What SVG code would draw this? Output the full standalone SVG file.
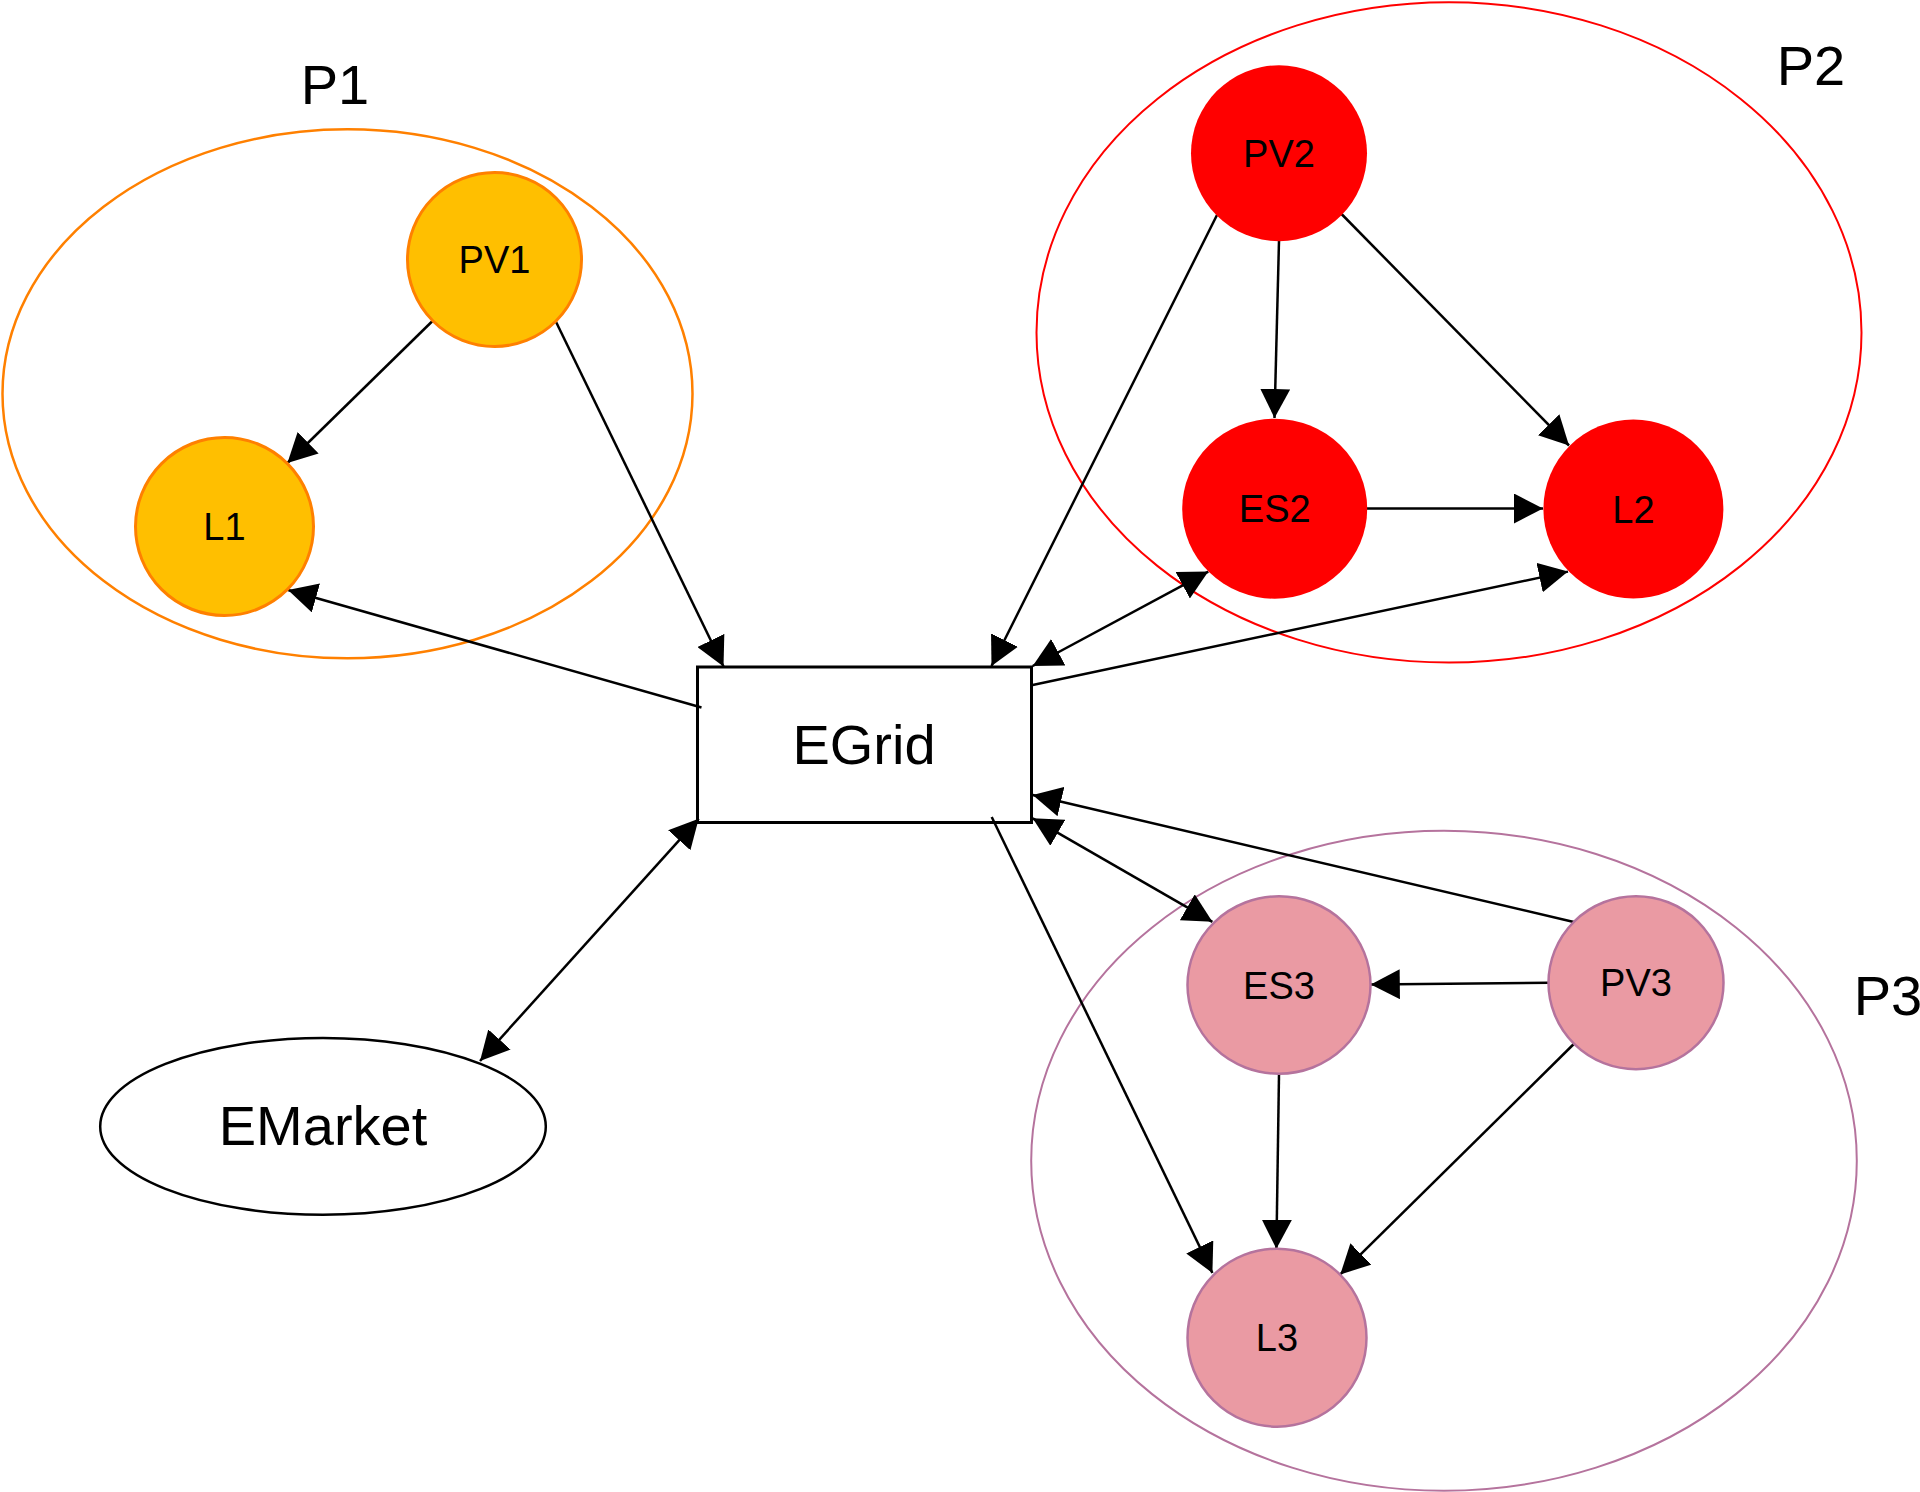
<svg xmlns="http://www.w3.org/2000/svg" width="1920" height="1492" viewBox="0 0 1920 1492">
<style>
text{font-family:"Liberation Sans",Arial,sans-serif;fill:#000;text-anchor:middle}
.lbl{font-size:56px}
.nt{font-size:38px}
.p1n{fill:#FFBF00;stroke:#FF8000;stroke-width:3}
.p2n{fill:#FF0000;stroke:none}
.p3n{fill:#EA9AA3;stroke:#B5739D;stroke-width:2.5}
.edge{fill:none;stroke:#000;stroke-width:2.5}
.a{marker-end:url(#ah)}
.b{marker-start:url(#ah);marker-end:url(#ah)}
</style>
<defs>
<marker id="ah" markerUnits="userSpaceOnUse" markerWidth="30" markerHeight="30" refX="29" refY="15" orient="auto-start-reverse" viewBox="0 0 30 30">
<path d="M0,0 L29,15 L0,30 z" fill="#000"/>
</marker>
</defs>
<rect width="1920" height="1492" fill="#fff"/>
<g id="P1">
<ellipse cx="347.5" cy="393.8" rx="345" ry="264.5" fill="none" stroke="#FF8000" stroke-width="2.5"/>
<text class="lbl" x="335" y="104">P1</text>
</g>
<g id="P2">
<ellipse cx="1449" cy="332.4" rx="412.5" ry="330.2" fill="none" stroke="#FF0000" stroke-width="2"/>
<text class="lbl" x="1811" y="85">P2</text>
</g>
<g id="P3">
<ellipse cx="1444" cy="1160.8" rx="412.8" ry="330" fill="none" stroke="#B5739D" stroke-width="2"/>
<text class="lbl" x="1888" y="1015">P3</text>
</g>
<g id="connectors">
<path class="edge a" d="M432.5,321 L287.4,463"/>
<path class="edge a" d="M555.6,321 L723.5,666.5"/>
<path class="edge a" d="M701.5,707.5 L288,590"/>
<path class="edge a" d="M1217,215 L991.5,666"/>
<path class="edge a" d="M1279,241 L1274.5,418"/>
<path class="edge a" d="M1341.5,214 L1569,445.5"/>
<path class="edge a" d="M1367,508.5 L1543,508.5"/>
<path class="edge b" d="M1032.7,666 L1208.3,571.6"/>
<path class="edge a" d="M1032.7,685 L1568,571.6"/>
<path class="edge a" d="M1573.8,922 L1032.7,795"/>
<path class="edge b" d="M1032.7,818.3 L1212.4,921.8"/>
<path class="edge a" d="M991.7,817 L1212.4,1273"/>
<path class="edge a" d="M1549,982.7 L1370.8,984.5"/>
<path class="edge a" d="M1279,1074 L1276.4,1248.8"/>
<path class="edge a" d="M1573.8,1044 L1340.3,1274.4"/>
<path class="edge b" d="M698.7,818.7 L480,1061"/>
</g>
<g id="PV1">
<circle class="p1n" cx="494.5" cy="259.5" r="87"/>
<text class="nt" x="494.5" y="273.1">PV1</text>
</g>
<g id="L1">
<circle class="p1n" cx="224.5" cy="526.5" r="89"/>
<text class="nt" x="224.5" y="540.1">L1</text>
</g>
<g id="PV2">
<circle class="p2n" cx="1279" cy="153.3" r="88"/>
<text class="nt" x="1279" y="166.9">PV2</text>
</g>
<g id="ES2">
<ellipse class="p2n" cx="1274.7" cy="508.7" rx="92.5" ry="90"/>
<text class="nt" x="1274.7" y="522.3">ES2</text>
</g>
<g id="L2">
<ellipse class="p2n" cx="1633.4" cy="509" rx="90" ry="89.5"/>
<text class="nt" x="1633.4" y="522.6">L2</text>
</g>
<g id="ES3">
<ellipse class="p3n" cx="1279" cy="985" rx="91.5" ry="88.7"/>
<text class="nt" x="1279" y="998.6">ES3</text>
</g>
<g id="PV3">
<ellipse class="p3n" cx="1636" cy="982.7" rx="87.5" ry="86.5"/>
<text class="nt" x="1636" y="996.3">PV3</text>
</g>
<g id="L3">
<ellipse class="p3n" cx="1277" cy="1337.7" rx="89.5" ry="89"/>
<text class="nt" x="1277" y="1351.3">L3</text>
</g>
<g id="EGrid">
<rect x="697.5" y="667" width="334" height="155.5" fill="none" stroke="#000" stroke-width="3"/>
<text class="lbl" x="864" y="764">EGrid</text>
</g>
<g id="EMarket">
<ellipse cx="323" cy="1126.4" rx="222.8" ry="88.4" fill="#fff" stroke="#000" stroke-width="2.5"/>
<text class="lbl" x="323" y="1145">EMarket</text>
</g>
</svg>
